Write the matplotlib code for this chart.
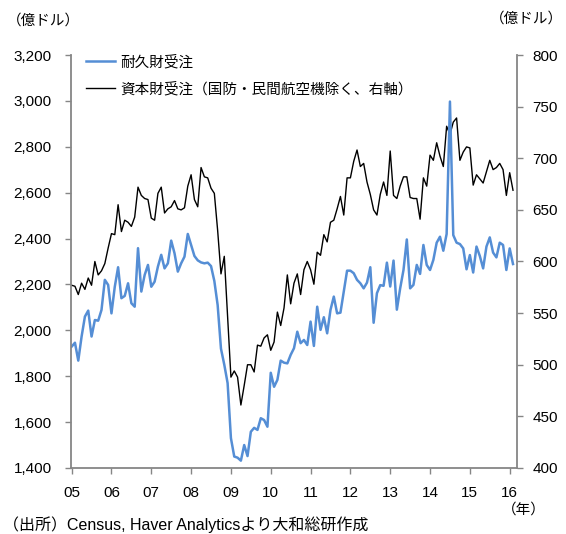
import numpy as np
import matplotlib.pyplot as plt
from matplotlib.ticker import FuncFormatter

plt.rcParams['font.family'] = ['Liberation Sans', 'Noto Sans CJK JP', 'DejaVu Sans']

# 耐久財受注（億ドル、左軸） 2005年1月～2016年2月
durable = [1929, 1946, 1868, 1973, 2060, 2086, 1973, 2045, 2042, 2089, 2220, 2198,
           2074, 2190, 2275, 2140, 2150, 2205, 2118, 2103, 2358, 2169, 2241, 2285,
           2190, 2212, 2278, 2329, 2270, 2292, 2391, 2336, 2256, 2292, 2321, 2420,
           2372, 2324, 2305, 2296, 2292, 2295, 2280, 2215, 2110, 1920, 1850, 1770,
           1530, 1450, 1445, 1432, 1500, 1452, 1558, 1575, 1566, 1617, 1609, 1580,
           1815, 1754, 1784, 1868, 1859, 1856, 1893, 1922, 1994, 1944, 1958, 1936,
           2038, 1932, 2103, 2002, 2057, 1987, 2089, 2147, 2074, 2077, 2169, 2260,
           2260, 2249, 2220, 2205, 2183, 2208, 2275, 2033, 2162, 2197, 2194, 2295,
           2191, 2304, 2090, 2183, 2263, 2396, 2183, 2198, 2285, 2246, 2372, 2285,
           2263, 2307, 2382, 2408, 2347, 2420, 2997, 2415, 2382, 2376, 2357, 2266,
           2328, 2252, 2365, 2324, 2270, 2365, 2405, 2339, 2318, 2382, 2372, 2263,
           2357, 2289]

# 資本財受注（国防・民間航空機除く、億ドル、右軸）
capital = [577, 576, 568, 579, 573, 584, 577, 600, 587, 591, 598, 613,
           627, 626, 655, 629, 640, 638, 634, 643, 672, 664, 661, 660,
           642, 640, 666, 672, 647, 651, 653, 659, 651, 650, 652, 673,
           684, 660, 653, 691, 682, 681, 671, 666, 630, 588, 605, 546,
           488, 494, 488, 461, 480, 500, 500, 493, 519, 518, 526, 529,
           514, 522, 551, 538, 555, 587, 559, 579, 588, 568, 592, 600,
           592, 578, 609, 606, 626, 619, 638, 640, 651, 663, 645, 681,
           681, 697, 708, 692, 695, 677, 665, 650, 645, 665, 677, 664,
           707, 664, 661, 673, 682, 682, 662, 661, 661, 641, 681, 673,
           703, 698, 715, 702, 692, 731, 723, 735, 739, 698, 706, 711,
           710, 674, 684, 680, 676, 687, 698, 689, 691, 695, 689, 664,
           686, 669]

year_labels = ['05', '06', '07', '08', '09', '10', '11', '12', '13', '14', '15', '16']

months = np.arange(len(durable))
blue = '#558ED5'
grey = '#868686'

fig = plt.figure(figsize=(5.66, 5.34), dpi=100)
ax = fig.add_axes([0.1254, 0.1236, 0.7880, 0.7734])
ax2 = ax.twinx()

l1, = ax.plot(months, durable, color=blue, lw=1.8, label='耐久財受注')
l2, = ax2.plot(months, capital, color='black', lw=1.0,
               label='資本財受注（国防・民間航空機除く、右軸）')

# 耐久財を前面に
ax.set_zorder(ax2.get_zorder() + 1)
ax.patch.set_visible(False)

ax.set_xlim(-0.2, 134.2)
ax.set_ylim(1400, 3200)
ax2.set_ylim(400, 800)
ax.set_yticks(np.arange(1400, 3201, 200))
ax2.set_yticks(np.arange(400, 801, 50))
ax.yaxis.set_major_formatter(FuncFormatter(lambda v, p: f'{int(v):,}'))
ax.set_xticks(np.arange(0, len(year_labels) * 12, 12))
ax.set_xticklabels(year_labels)

for a in (ax, ax2):
    a.spines['top'].set_visible(False)
    for s in ('left', 'right', 'bottom'):
        a.spines[s].set_color(grey)
        a.spines[s].set_linewidth(1.3)
    a.tick_params(colors=grey, labelcolor='black', labelsize=11,
                  length=4, width=1)
ax.spines['right'].set_visible(False)
ax2.spines['left'].set_visible(False)
ax2.spines['bottom'].set_visible(False)
ax.tick_params(axis='y', pad=10)
ax2.tick_params(axis='y', pad=7)
ax.tick_params(axis='x', pad=9)

leg = ax.legend(handles=[l1, l2], loc='upper left', bbox_to_anchor=(0.02, 1.015),
                frameon=False, fontsize=10.5, handlelength=2.0, handletextpad=0.35,
                labelspacing=0.85, borderaxespad=0)

fig.text(0.012, 0.962, '（億ドル）', fontsize=10.5, va='center')
fig.text(0.995, 0.965, '（億ドル）', fontsize=10.5, va='center', ha='right')
fig.text(0.965, 0.045, '（年）', fontsize=10.5, va='center', ha='right')
fig.text(0.005, 0.018, '（出所）Census, Haver Analyticsより大和総研作成',
         fontsize=11.5, va='center')

fig.savefig('out.png', dpi=100)
